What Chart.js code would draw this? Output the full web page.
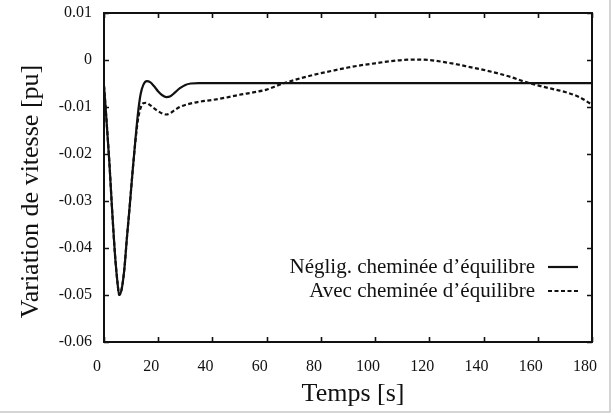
<!DOCTYPE html>
<html lang="fr">
<head>
<meta charset="utf-8">
<title>Variation de vitesse</title>
<script src="https://cdn.jsdelivr.net/npm/chart.js@4/dist/chart.umd.min.js"></script>
<style>
    html, body { margin: 0; padding: 0; background: #fff; }
    #wrap { width: 614px; height: 420px; }
</style>
</head>
<body>
<div id="wrap"><canvas id="speedChart" width="614" height="420"></canvas></div>
<script>
// ===================================
// DATA
// ===================================

const xTickValues = [0, 20, 40, 60, 80, 100, 120, 140, 160, 180];
const yTickValues = [0.01, 0, -0.01, -0.02, -0.03, -0.04, -0.05, -0.06];

const seriesLabels = ['Néglig. cheminée d\u2019équilibre', 'Avec cheminée d\u2019équilibre'];

// solid: surge tank neglected
const timeSolid = [0, 0.7, 2, 3, 4, 5, 5.6, 6.5, 7.5, 8.5, 9.5, 10.5, 11.5, 12.5, 13.5, 14.5,
    15.8, 17, 18.5, 20, 21.5, 23, 24.5, 26, 28, 30, 32, 35, 60, 100, 140, 180];
const speedSolid = [-0.0055, -0.011, -0.022, -0.032, -0.041, -0.0475, -0.0500, -0.0488, -0.0445,
    -0.0375, -0.0310, -0.0240, -0.0175, -0.0115, -0.0073, -0.0053,
    -0.0045, -0.0047, -0.0056, -0.0067, -0.0075, -0.0079, -0.0077, -0.0070, -0.0060, -0.0053,
    -0.0050, -0.0049, -0.0049, -0.0049, -0.0049, -0.0049];

// dashed: with surge tank
const timeDashed = [0, 0.7, 2, 3, 4, 5, 5.6, 6.5, 7.5, 8.5, 9.5, 10.5, 11.5, 12.5, 13.5, 14.5,
    15.5, 17, 18.5, 20, 21.5, 23, 24.5, 26, 28, 31, 35, 40, 45, 50, 55, 60, 65, 70, 75, 80,
    85, 90, 95, 100, 105, 110, 115, 120, 125, 130, 135, 140, 145, 150, 155, 160, 165, 170, 175, 180];
const speedDashed = [-0.0055, -0.011, -0.022, -0.032, -0.041, -0.0475, -0.0500, -0.0488, -0.0445,
    -0.0375, -0.0310, -0.0240, -0.0178, -0.0128, -0.0102, -0.0092,
    -0.0091, -0.0096, -0.0103, -0.0109, -0.0114, -0.0116, -0.0113, -0.0107, -0.0100, -0.0094,
    -0.0089, -0.0085, -0.0080, -0.0074, -0.0069, -0.0063, -0.0052, -0.0043, -0.0035, -0.0028,
    -0.0022, -0.0016, -0.0011, -0.0007, -0.0003, 0.0000, 0.0001, 0.0000, -0.0004, -0.0009,
    -0.0015, -0.0021, -0.0028, -0.0036, -0.0046, -0.0054, -0.0061, -0.0068, -0.0078, -0.0095];

const xTitle = 'Temps [s]';
const yTitle = 'Variation de vitesse [pu]';

// ===================================
// STYLE
// ===================================

const ink = '#111';
const serif = "'Liberation Serif', 'Times New Roman', serif";

function toPoints(xs, ys) {
    return xs.map((x, i) => ({ x: x, y: ys[i] }));
}

// frame with inward ticks on all four sides, axis titles, inset legend
const paperPlugin = {
    id: 'paper',
    beforeDraw(chart) {
        const ctx = chart.ctx;
        ctx.save();
        ctx.fillStyle = '#fff';
        ctx.fillRect(0, 0, chart.width, chart.height);
        ctx.strokeStyle = '#c8c8c8';
        ctx.lineWidth = 1.5;
        ctx.beginPath();
        ctx.moveTo(610, 0);
        ctx.lineTo(610, 412);
        ctx.lineTo(0, 412);
        ctx.stroke();
        ctx.restore();
    },
    afterDraw(chart) {
        const ctx = chart.ctx;
        const a = chart.chartArea;
        const xs = chart.scales.x;
        const ys = chart.scales.y;
        const tick = 5;
        ctx.save();
        ctx.strokeStyle = ink;
        ctx.lineWidth = 1.6;
        xTickValues.forEach(v => {
            const px = Math.round(xs.getPixelForValue(v)) + 0.5;
            ctx.beginPath();
            ctx.moveTo(px, a.bottom); ctx.lineTo(px, a.bottom - tick);
            ctx.moveTo(px, a.top); ctx.lineTo(px, a.top + tick);
            ctx.stroke();
        });
        yTickValues.forEach(v => {
            const py = Math.round(ys.getPixelForValue(v)) + 0.5;
            ctx.beginPath();
            ctx.moveTo(a.left, py); ctx.lineTo(a.left + tick, py);
            ctx.moveTo(a.right, py); ctx.lineTo(a.right - tick, py);
            ctx.stroke();
        });
        ctx.lineWidth = 2;
        ctx.strokeRect(a.left, a.top, a.right - a.left, a.bottom - a.top);

        // axis titles
        ctx.fillStyle = ink;
        ctx.font = '26px ' + serif;
        ctx.textAlign = 'center';
        ctx.textBaseline = 'middle';
        ctx.fillText(xTitle, (a.left + a.right) / 2 + 5, 394);
        ctx.translate(31, (a.top + a.bottom) / 2 + 14);
        ctx.rotate(-Math.PI / 2);
        ctx.fillText(yTitle, 0, 0);
        ctx.restore();

        // legend, text to the left of the line sample
        ctx.save();
        ctx.font = '21px ' + serif;
        ctx.fillStyle = ink;
        ctx.textAlign = 'right';
        ctx.textBaseline = 'middle';
        chart.data.datasets.forEach((ds, i) => {
            const y = a.top + 254 + i * 24;
            ctx.fillText(ds.label, a.right - 57, y);
            ctx.strokeStyle = ds.borderColor;
            ctx.lineWidth = ds.borderWidth;
            ctx.setLineDash(ds.borderDash || []);
            ctx.beginPath();
            ctx.moveTo(a.right - 44, y);
            ctx.lineTo(a.right - 14, y);
            ctx.stroke();
        });
        ctx.restore();
    }
};

function noEdgePadding(scale) {
    scale.paddingTop = 0;
    scale.paddingBottom = 0;
    scale.paddingLeft = 0;
    scale.paddingRight = 0;
}

document.addEventListener('DOMContentLoaded', () => {
    Chart.defaults.font.family = serif;
    Chart.defaults.color = ink;

    new Chart(document.getElementById('speedChart').getContext('2d'), {
        type: 'line',
        data: {
            datasets: [
                {
                    label: seriesLabels[0],
                    data: toPoints(timeSolid, speedSolid),
                    borderColor: ink,
                    borderWidth: 2.2,
                    pointRadius: 0,
                    cubicInterpolationMode: 'monotone',
                    fill: false
                },
                {
                    label: seriesLabels[1],
                    data: toPoints(timeDashed, speedDashed),
                    borderColor: ink,
                    borderWidth: 2.2,
                    borderDash: [4, 2.5],
                    pointRadius: 0,
                    cubicInterpolationMode: 'monotone',
                    fill: false
                }
            ]
        },
        options: {
            responsive: false,
            animation: false,
            layout: { padding: { left: 0, top: 13, right: 22, bottom: 0 } },
            plugins: {
                legend: { display: false },
                tooltip: { enabled: false }
            },
            scales: {
                x: {
                    type: 'linear',
                    min: 0,
                    max: 180,
                    afterBuildTicks: scale => { scale.ticks = xTickValues.map(v => ({ value: v })); },
                    afterFit: scale => { scale.height = 78; noEdgePadding(scale); },
                    grid: { display: false, drawTicks: false },
                    border: { display: false },
                    ticks: {
                        font: { size: 16 },
                        padding: 15,
                        labelOffset: -7,
                        maxRotation: 0,
                        callback: v => String(v)
                    }
                },
                y: {
                    min: -0.06,
                    max: 0.01,
                    afterBuildTicks: scale => { scale.ticks = yTickValues.map(v => ({ value: v })); },
                    afterFit: scale => { scale.width = 104; noEdgePadding(scale); },
                    grid: { display: false, drawTicks: false },
                    border: { display: false },
                    ticks: {
                        font: { size: 16 },
                        padding: 12,
                        callback: v => String(Number(v.toFixed(2)))
                    }
                }
            }
        },
        plugins: [paperPlugin]
    });
});
</script>
</body>
</html>
